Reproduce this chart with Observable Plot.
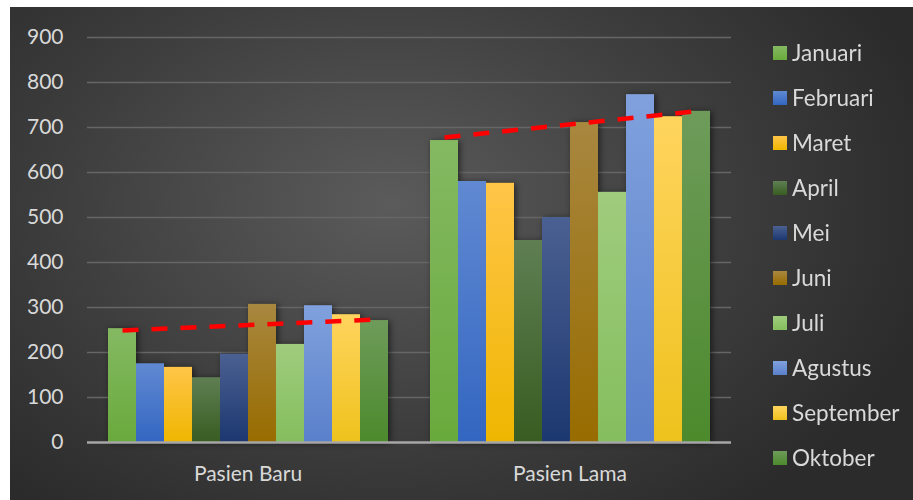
<!DOCTYPE html>
<html>
<head>
<meta charset="utf-8">
<script src="https://cdn.jsdelivr.net/npm/d3@7"></script>
<script src="https://cdn.jsdelivr.net/npm/@observablehq/plot@0.6"></script>
<style>
  html, body { margin: 0; padding: 0; background: #ffffff; }
  #wrap { position: relative; width: 913px; height: 500px; overflow: hidden; }
  #bg { position: absolute; left: 10px; top: 7px; width: 903px; height: 493px;
        background: radial-gradient(ellipse 62% 78% at 42% 40%, #5b5b5b 0%, #3d3d3d 60%, #2b2b2b 100%); }
  .layer { position: absolute; left: 0; top: 0; }
  .layer svg { display: block; }
  #bars g[aria-label="bar"] { filter: drop-shadow(2px 1px 3px rgba(0,0,0,0.55)); }
  #legend { position: absolute; left: 773px; top: 30px; font-family: Lato, sans-serif;
            font-size: 22.5px; color: #d9d9d9; }
  #legend .row { height: 45px; display: flex; align-items: center; white-space: nowrap; }
  #legend .sw { width: 14px; height: 14px; margin-right: 5px; }
</style>
</head>
<body>
<svg width="0" height="0" style="position:absolute">
  <defs id="gradDefs"></defs>
</svg>
<div id="wrap">
  <div id="bg"></div>
  <div id="grid" class="layer"></div>
  <div id="bars" class="layer"></div>
  <div id="zero" class="layer"></div>
  <div id="legend"></div>
</div>
<script>
// ---- Data ----
const months = ["Januari","Februari","Maret","April","Mei","Juni","Juli","Agustus","September","Oktober"];
const groups = ["Pasien Baru","Pasien Lama"];
const pasienBaru = [253,175,167,144,196,307,218,304,284,271];
const pasienLama = [671,580,576,449,500,711,556,773,724,736];
const trendBaru = [249, 273];   // linear trend, Januari -> Oktober
const trendLama = [678, 736];
const yTicks = [0,100,200,300,400,500,600,700,800,900];

// gradient colours per month (top, bottom)
const gradTop = ["#84b962","#6189d2","#ffc548","#5f7f53","#4b6092","#a8873f","#9fcc7d","#80a1dd","#ffd45e","#6e9b5a"];
const gradBot = ["#69aa3c","#3366c1","#efb600","#385c21","#1c3870","#986c00","#85be5e","#5a80cb","#eec21c","#4c8a2c"];

const defs = document.getElementById("gradDefs");
months.forEach((m, i) => {
  defs.insertAdjacentHTML("beforeend",
    `<linearGradient id="grad${i}" x1="0" y1="0" x2="0" y2="1">
       <stop offset="0%" stop-color="${gradTop[i]}"/>
       <stop offset="100%" stop-color="${gradBot[i]}"/>
     </linearGradient>`);
});
const fills = months.map((m, i) => `url(#grad${i})`);

const table = [];
months.forEach((m, i) => {
  table.push({group: groups[0], month: m, value: pasienBaru[i]});
  table.push({group: groups[1], month: m, value: pasienLama[i]});
});
const trend = [
  {group: groups[0], month: months[0], value: trendBaru[0]},
  {group: groups[0], month: months[months.length-1], value: trendBaru[1]},
  {group: groups[1], month: months[0], value: trendLama[0]},
  {group: groups[1], month: months[months.length-1], value: trendLama[1]}
];

const common = {
  width: 913, height: 500,
  marginLeft: 87, marginRight: 182, marginTop: 37, marginBottom: 58,
  style: {background: "transparent", color: "#d9d9d9", fontFamily: "Lato, sans-serif", fontSize: "21px", overflow: "visible"}
};

// grid + y axis
const gridPlot = Plot.plot({
  ...common,
  x: {axis: null},
  y: {domain: [0, 900], axis: null},
  marks: [
    Plot.ruleY(yTicks.filter(v => v > 0), {stroke: "#666666", strokeWidth: 1.5}),
    Plot.axisY(yTicks, {tickSize: 0, tickPadding: 24, label: null, fill: "#d9d9d9"})
  ]
});
document.getElementById("grid").appendChild(gridPlot);

// bars
const barPlot = Plot.plot({
  ...common,
  fx: {domain: groups, paddingInner: 0.127, paddingOuter: 0.062, axis: null},
  x: {domain: months, padding: 0, axis: null},
  y: {domain: [0, 900], axis: null},
  color: {type: "ordinal", domain: months, range: fills},
  marks: [
    Plot.barY(table, {fx: "group", x: "month", y: "value", fill: "month"}),
    Plot.lineY(trend, {fx: "group", x: "month", y: "value", stroke: "#ff0000", strokeWidth: 4.5, strokeDasharray: "16,13", strokeLinecap: "butt"}),
    Plot.axisFx({anchor: "bottom", tickSize: 0, tickPadding: 24, label: null, fill: "#d9d9d9"})
  ]
});
document.getElementById("bars").appendChild(barPlot);

// zero baseline on top
const zeroPlot = Plot.plot({
  ...common,
  x: {axis: null},
  y: {domain: [0, 900], axis: null},
  marks: [Plot.ruleY([0], {stroke: "#a6a6a6", strokeWidth: 2.5})]
});
document.getElementById("zero").appendChild(zeroPlot);

// legend
const legend = document.getElementById("legend");
months.forEach((m, i) => {
  legend.insertAdjacentHTML("beforeend",
    `<div class="row"><div class="sw" style="background:linear-gradient(${gradTop[i]},${gradBot[i]})"></div><span>${m}</span></div>`);
});
</script>
</body>
</html>
